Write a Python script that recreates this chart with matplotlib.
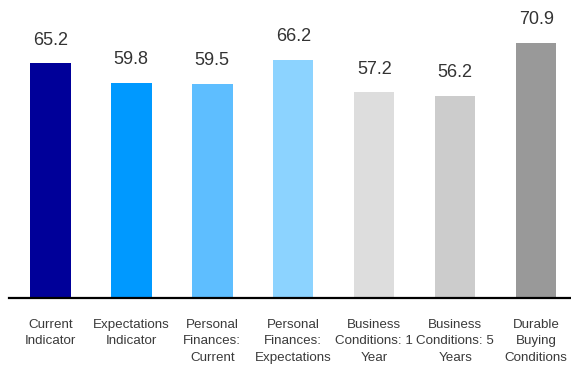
import matplotlib
matplotlib.use("Agg")
import matplotlib.pyplot as plt
from matplotlib import font_manager

categories = ["Current\nIndicator", "Expectations\nIndicator", "Personal\nFinances:\nCurrent",
              "Personal\nFinances:\nExpectations", "Business\nConditions: 1\nYear",
              "Business\nConditions: 5\nYears", "Durable\nBuying\nConditions"]
values = [65.2, 59.8, 59.5, 66.2, 57.2, 56.2, 70.9]
colors = ["#000099", "#0099ff", "#5ebeff", "#8cd3ff", "#dddddd", "#cccccc", "#999999"]

names = {f.name for f in font_manager.fontManager.ttflist}
val_fam = [f for f in ["Liberation Sans", "DejaVu Sans"] if f in names] or ["DejaVu Sans"]
plt.rcParams['font.family'] = val_fam

fig = plt.figure(figsize=(5.71, 3.69), dpi=100)
ax = fig.add_axes([9 / 571, (369 - 298) / 369, 562 / 571, 298 / 369])
x = list(range(len(values)))
ax.bar(x, values, width=0.5, color=colors)
for xi, v in zip(x, values):
    ax.annotate(f"{v:.1f}", (xi, v), xytext=(0, 10.5), textcoords="offset points",
                ha="center", va="bottom", fontsize=13, color="#333333")
ax.set_xlim(-0.51, 6.43)
ax.set_ylim(0, 82.8)
ax.set_xticks(x)
ax.set_xticklabels(categories, fontsize=9.6, color="#3a3a3a", linespacing=1.5)
ax.tick_params(axis="x", length=0, pad=15)
ax.set_yticks([])
for s in ["top", "right", "left"]:
    ax.spines[s].set_visible(False)
ax.spines["bottom"].set_linewidth(1.6)
ax.spines["bottom"].set_color("black")
ax.patch.set_alpha(0)
fig.savefig("out.png", dpi=100)
